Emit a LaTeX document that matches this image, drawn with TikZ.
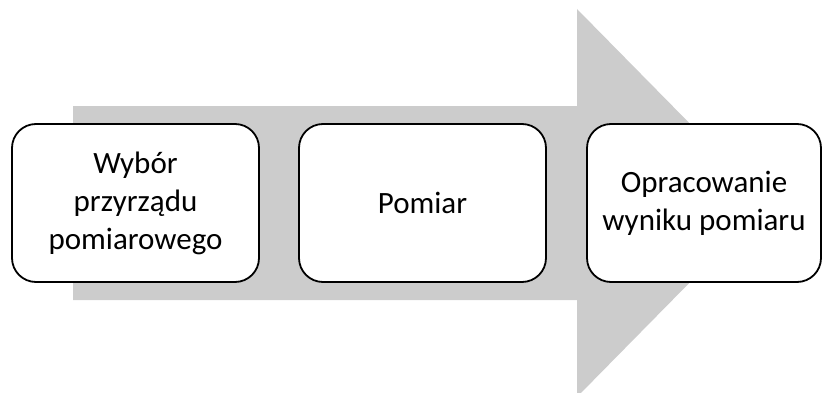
\documentclass[tikz,border=0pt]{standalone}
\usepackage{fontspec}
\setmainfont{Carlito}
\usetikzlibrary{positioning}

\tikzstyle{krok} = [draw, line width=1.8pt, rounded corners=24pt, fill=white, minimum width=247pt, minimum height=158pt, align=center, inner sep=0pt, outer sep=0pt, font=\fontsize{31}{38}\selectfont]
\tikzstyle{tlo} = [fill=black!20]

\begin{document}
\begin{tikzpicture}[x=1pt, y=1pt]
\useasboundingbox (0,0) rectangle (823,392);
\clip (0,0) rectangle (823,392);
% szara strzalka pod krokami
\fill[tlo] (73,92) -- (73,286) -- (577,286) -- (577,383) -- (768,189)
    -- (577,-5) -- (577,92) -- cycle;

\node[krok] (wybor) at (135.5,189) {Wybór\\przyrządu\\pomiarowego};
\node[krok, right=40pt of wybor] (pomiar) {Pomiar};
\node[krok, right=41pt of pomiar, minimum width=234pt] (wynik) {Opracowanie\\wyniku pomiaru};
\end{tikzpicture}
\end{document}
